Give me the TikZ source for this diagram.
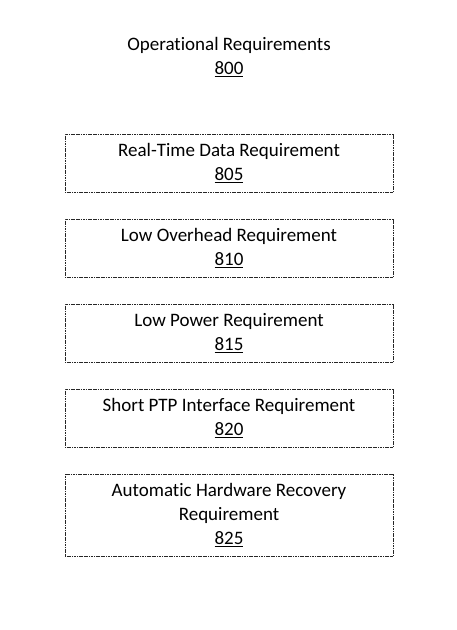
\documentclass[tikz,border=0pt]{standalone}
\usepackage{fontspec}
\setmainfont[Ligatures={NoCommon}]{Carlito}
\begin{document}
\begin{tikzpicture}[x=1pt, y=-1pt, outer sep=0pt]
  \tikzstyle{reqbox}=[
    draw=black!85,
    rectangle,
    minimum width=328pt,
    minimum height=58pt,
    align=center,
    anchor=center,
    line width=0.6pt,
    dash pattern=on 1.2pt off 0.5pt,
    font=\fontsize{19}{24}\selectfont
  ]
  \tikzstyle{title}=[align=center, font=\fontsize{19}{24}\selectfont]
  \useasboundingbox (0,0) rectangle (457,630);

  \node[title] (oper) at (229,57) {Operational Requirements\\\underline{800}};

  \node[reqbox] (realtime) at (229,163) {Real-Time Data Requirement\\\underline{805}};
  \node[reqbox] (overhead) at (229,248) {Low Overhead Requirement\\\underline{810}};
  \node[reqbox] (power) at (229,333) {Low Power Requirement\\\underline{815}};
  \node[reqbox] (ptp) at (229,418) {Short PTP Interface Requirement\\\underline{820}};
  \node[reqbox, minimum height=82pt] (recovery) at (229,515) {Automatic Hardware Recovery\\Requirement\\\underline{825}};
\end{tikzpicture}
\end{document}
